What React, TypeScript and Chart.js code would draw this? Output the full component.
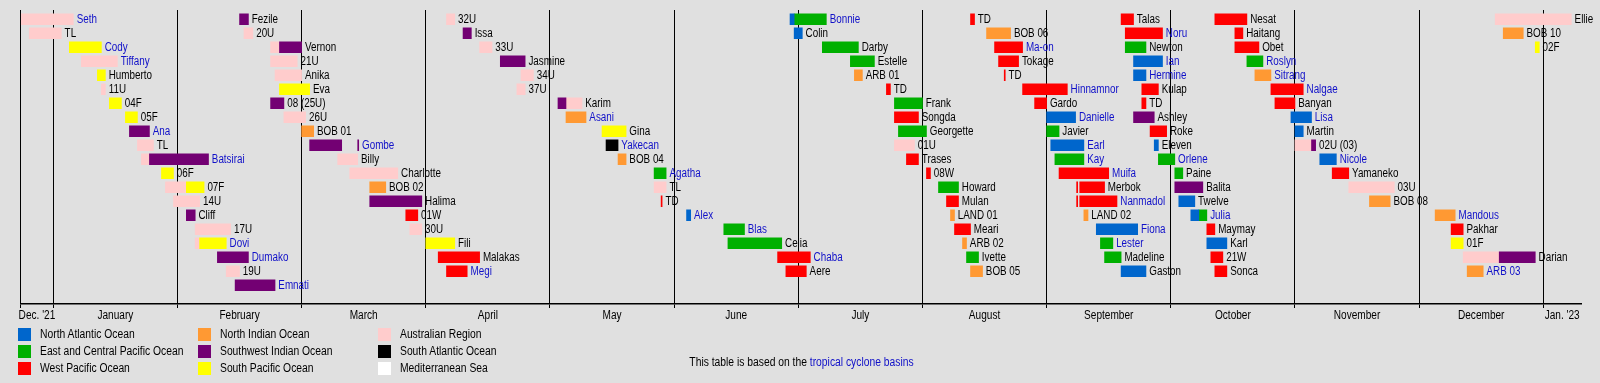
import React, { useEffect, useRef } from 'react';
import { Chart, registerables } from 'chart.js';

Chart.register(...registerables);

// [storm label, row slot, from, to]
type Segment = [string, number, string, string];

const northAtlantic: Segment[] = [
  ['Alex', 14, '2022-06-04', '2022-06-05'],
  ['Bonnie', 0, '2022-06-29', '2022-06-30'],
  ['Colin', 1, '2022-06-30', '2022-07-02'],
  ['Danielle', 7, '2022-09-01', '2022-09-08'],
  ['Earl', 9, '2022-09-02', '2022-09-10'],
  ['Fiona', 15, '2022-09-13', '2022-09-23'],
  ['Gaston', 18, '2022-09-19', '2022-09-25'],
  ['Ian', 3, '2022-09-22', '2022-09-29'],
  ['Hermine', 4, '2022-09-22', '2022-09-25'],
  ['Eleven', 9, '2022-09-27', '2022-09-28'],
  ['Twelve', 13, '2022-10-03', '2022-10-07'],
  ['Julia', 14, '2022-10-06', '2022-10-08'],
  ['Karl', 16, '2022-10-10', '2022-10-15'],
  ['Lisa', 7, '2022-10-31', '2022-11-05'],
  ['Martin', 8, '2022-11-01', '2022-11-03'],
  ['Nicole', 10, '2022-11-07', '2022-11-11'],
];

const eastCentralPacific: Segment[] = [
  ['Agatha', 11, '2022-05-27', '2022-05-30'],
  ['Blas', 15, '2022-06-13', '2022-06-18'],
  ['Celia', 16, '2022-06-14', '2022-06-27'],
  ['Bonnie', 0, '2022-06-30', '2022-07-08'],
  ['Darby', 2, '2022-07-07', '2022-07-16'],
  ['Estelle', 3, '2022-07-14', '2022-07-20'],
  ['Frank', 6, '2022-07-25', '2022-08-01'],
  ['Georgette', 8, '2022-07-26', '2022-08-02'],
  ['Howard', 12, '2022-08-05', '2022-08-10'],
  ['Ivette', 17, '2022-08-12', '2022-08-15'],
  ['Javier', 8, '2022-09-01', '2022-09-04'],
  ['Kay', 10, '2022-09-03', '2022-09-10'],
  ['Lester', 16, '2022-09-14', '2022-09-17'],
  ['Madeline', 17, '2022-09-15', '2022-09-19'],
  ['Newton', 2, '2022-09-20', '2022-09-25'],
  ['Orlene', 10, '2022-09-28', '2022-10-02'],
  ['Paine', 11, '2022-10-02', '2022-10-04'],
  ['Julia', 14, '2022-10-08', '2022-10-10'],
  ['Roslyn', 3, '2022-10-20', '2022-10-24'],
];

const westPacific: Segment[] = [
  ['01W', 14, '2022-03-27', '2022-03-30'],
  ['Malakas', 17, '2022-04-04', '2022-04-14'],
  ['Megi', 18, '2022-04-06', '2022-04-11'],
  ['TD', 13, '2022-05-28T18', '2022-05-29T00'],
  ['Chaba', 17, '2022-06-26', '2022-07-04'],
  ['Aere', 18, '2022-06-28', '2022-07-03'],
  ['TD', 5, '2022-07-23', '2022-07-24'],
  ['Songda', 7, '2022-07-25', '2022-07-31'],
  ['Trases', 10, '2022-07-28', '2022-07-31'],
  ['08W', 11, '2022-08-02', '2022-08-03'],
  ['Mulan', 13, '2022-08-07', '2022-08-10'],
  ['Meari', 15, '2022-08-09', '2022-08-13'],
  ['TD', 0, '2022-08-13', '2022-08-14'],
  ['Ma-on', 2, '2022-08-19', '2022-08-26'],
  ['Tokage', 3, '2022-08-20', '2022-08-25'],
  ['TD', 4, '2022-08-21T10', '2022-08-21T16'],
  ['Hinnamnor', 5, '2022-08-26', '2022-09-06'],
  ['Gardo', 6, '2022-08-29', '2022-09-01'],
  ['Muifa', 11, '2022-09-04', '2022-09-16'],
  ['Merbok', 12, '2022-09-08T06', '2022-09-08T12'],
  ['Merbok', 12, '2022-09-09', '2022-09-15'],
  ['Nanmadol', 13, '2022-09-08T06', '2022-09-08T12'],
  ['Nanmadol', 13, '2022-09-09', '2022-09-18'],
  ['Talas', 0, '2022-09-19', '2022-09-22'],
  ['Noru', 1, '2022-09-20', '2022-09-29'],
  ['Kulap', 5, '2022-09-24', '2022-09-28'],
  ['TD', 6, '2022-09-24', '2022-09-25'],
  ['Roke', 8, '2022-09-26', '2022-09-30'],
  ['Maymay', 15, '2022-10-10', '2022-10-12'],
  ['21W', 17, '2022-10-11', '2022-10-14'],
  ['Sonca', 18, '2022-10-12', '2022-10-15'],
  ['Nesat', 0, '2022-10-12', '2022-10-20'],
  ['Haitang', 1, '2022-10-17', '2022-10-19'],
  ['Obet', 2, '2022-10-17', '2022-10-23'],
  ['Nalgae', 5, '2022-10-26', '2022-11-03'],
  ['Banyan', 6, '2022-10-27', '2022-11-01'],
  ['Yamaneko', 11, '2022-11-10', '2022-11-14'],
  ['Pakhar', 15, '2022-12-09', '2022-12-12'],
];

const northIndian: Segment[] = [
  ['BOB 01', 8, '2022-03-01', '2022-03-04'],
  ['BOB 02', 12, '2022-03-18', '2022-03-22'],
  ['Asani', 7, '2022-05-05', '2022-05-10'],
  ['BOB 04', 10, '2022-05-18', '2022-05-20'],
  ['ARB 01', 4, '2022-07-15', '2022-07-17'],
  ['LAND 01', 14, '2022-08-08', '2022-08-09'],
  ['ARB 02', 16, '2022-08-11', '2022-08-12'],
  ['BOB 05', 18, '2022-08-13', '2022-08-16'],
  ['BOB 06', 1, '2022-08-17', '2022-08-23'],
  ['LAND 02', 14, '2022-09-10', '2022-09-11'],
  ['Sitrang', 4, '2022-10-22', '2022-10-26'],
  ['BOB 08', 13, '2022-11-19', '2022-11-24'],
  ['Mandous', 14, '2022-12-05', '2022-12-10'],
  ['ARB 03', 18, '2022-12-13', '2022-12-17'],
  ['BOB 10', 1, '2022-12-22', '2022-12-27'],
];

const southwestIndian: Segment[] = [
  ['Ana', 8, '2022-01-20', '2022-01-25'],
  ['Batsirai', 10, '2022-01-25', '2022-02-08'],
  ['Cliff', 14, '2022-02-03', '2022-02-05'],
  ['Dumako', 17, '2022-02-10', '2022-02-17'],
  ['Emnati', 19, '2022-02-14', '2022-02-23'],
  ['Fezile', 0, '2022-02-15', '2022-02-17'],
  ['Vernon', 2, '2022-02-24', '2022-03-01'],
  ['08 (25U)', 6, '2022-02-22', '2022-02-25'],
  ['Gombe', 9, '2022-03-03', '2022-03-11'],
  ['Gombe', 9, '2022-03-15', '2022-03-15T06'],
  ['Halima', 13, '2022-03-18', '2022-03-31'],
  ['Issa', 1, '2022-04-10', '2022-04-12'],
  ['Jasmine', 3, '2022-04-19', '2022-04-25'],
  ['Karim', 6, '2022-05-03', '2022-05-05'],
  ['Ashley', 7, '2022-09-22', '2022-09-27'],
  ['Balita', 12, '2022-10-02', '2022-10-09'],
  ['02U (03)', 9, '2022-11-05', '2022-11-06'],
  ['Darian', 17, '2022-12-21', '2022-12-30'],
];

const southPacific: Segment[] = [
  ['Cody', 2, '2022-01-05', '2022-01-13'],
  ['Humberto', 4, '2022-01-12', '2022-01-14'],
  ['04F', 6, '2022-01-15', '2022-01-18'],
  ['05F', 7, '2022-01-19', '2022-01-22'],
  ['06F', 11, '2022-01-28', '2022-01-31'],
  ['07F', 12, '2022-02-03', '2022-02-07'],
  ['Dovi', 16, '2022-02-06', '2022-02-12'],
  ['Eva', 5, '2022-02-24', '2022-03-03'],
  ['Fili', 16, '2022-04-01', '2022-04-08'],
  ['Gina', 8, '2022-05-14', '2022-05-20'],
  ['01F', 16, '2022-12-09', '2022-12-12'],
  ['02F', 2, '2022-12-30', '2022-12-31'],
];

const australianRegion: Segment[] = [
  ['Seth', 0, '2021-12-24', '2022-01-06'],
  ['TL', 1, '2021-12-26', '2022-01-03'],
  ['Tiffany', 3, '2022-01-08', '2022-01-17'],
  ['11U', 5, '2022-01-13', '2022-01-14'],
  ['TL', 9, '2022-01-22', '2022-01-26'],
  ['Batsirai', 10, '2022-01-23', '2022-01-25'],
  ['07F', 12, '2022-01-29', '2022-02-03'],
  ['14U', 13, '2022-01-31', '2022-02-06'],
  ['17U', 15, '2022-02-05', '2022-02-13'],
  ['Dovi', 16, '2022-02-05', '2022-02-06'],
  ['19U', 18, '2022-02-12', '2022-02-15'],
  ['20U', 1, '2022-02-16', '2022-02-18'],
  ['Vernon', 2, '2022-02-22', '2022-02-24'],
  ['21U', 3, '2022-02-22', '2022-02-28'],
  ['Anika', 4, '2022-02-23', '2022-03-01'],
  ['26U', 7, '2022-02-25', '2022-03-02'],
  ['Billy', 10, '2022-03-10', '2022-03-15'],
  ['Charlotte', 11, '2022-03-13', '2022-03-25'],
  ['30U', 15, '2022-03-28', '2022-03-31'],
  ['32U', 0, '2022-04-06', '2022-04-08'],
  ['33U', 2, '2022-04-14', '2022-04-17'],
  ['34U', 4, '2022-04-24', '2022-04-27'],
  ['37U', 5, '2022-04-23', '2022-04-25'],
  ['Karim', 6, '2022-05-05', '2022-05-09'],
  ['TL', 12, '2022-05-27', '2022-05-30'],
  ['01U', 9, '2022-07-25', '2022-07-30'],
  ['02U (03)', 9, '2022-11-01', '2022-11-05'],
  ['03U', 12, '2022-11-14', '2022-11-25'],
  ['Darian', 17, '2022-12-12', '2022-12-21'],
  ['Ellie', 0, '2022-12-20', '2023-01-08'],
];

const southAtlantic: Segment[] = [
  ['Yakecan', 9, '2022-05-15', '2022-05-18'],
];

const mediterranean: Segment[] = [];

const linkedStorms = [
  'Seth', 'Cody', 'Tiffany', 'Ana', 'Batsirai', 'Dovi', 'Dumako', 'Emnati', 'Gombe', 'Megi',
  'Asani', 'Yakecan', 'Agatha', 'Alex', 'Blas', 'Chaba', 'Bonnie', 'Ma-on', 'Hinnamnor',
  'Danielle', 'Earl', 'Kay', 'Muifa', 'Nanmadol', 'Fiona', 'Lester', 'Noru', 'Ian', 'Hermine',
  'Orlene', 'Julia', 'Roslyn', 'Sitrang', 'Nalgae', 'Lisa', 'Nicole', 'Mandous', 'ARB 03',
];

const periodStart = '2021-12-23T20';
const periodEnd = '2023-01-10T10';
const monthStarts = [
  '2022-01-01', '2022-02-01', '2022-03-01', '2022-04-01', '2022-05-01', '2022-06-01', '2022-07-01',
  '2022-08-01', '2022-09-01', '2022-10-01', '2022-11-01', '2022-12-01', '2023-01-01',
];
const monthLabels = [
  "Dec. '21", 'January', 'February', 'March', 'April', 'May', 'June', 'July',
  'August', 'September', 'October', 'November', 'December', "Jan. '23",
];

const basinNames = [
  'North Atlantic Ocean', 'East and Central Pacific Ocean', 'West Pacific Ocean',
  'North Indian Ocean', 'Southwest Indian Ocean', 'South Pacific Ocean',
  'Australian Region', 'South Atlantic Ocean', 'Mediterranean Sea',
];
const basinColors = [
  '#0066cc', '#00b000', '#ff0000',
  '#ff9933', '#730073', '#ffff00',
  '#ffcccc', '#000000', '#ffffff',
];
const basinSegments = [
  northAtlantic, eastCentralPacific, westPacific,
  northIndian, southwestIndian, southPacific,
  australianRegion, southAtlantic, mediterranean,
];

const FONT = "'Liberation Sans', Arial, sans-serif";
const CANVAS_FONT = "12px 'Liberation Sans', Arial, sans-serif";
const NARROW = 0.82;
const LEGEND_NARROW = 0.86;
const LINK = '#1010c8';

function toValue(s: string): number {
  const [datePart, hourPart] = s.split('T');
  const [y, m, d] = datePart.split('-').map(Number);
  const dim = new Date(y, m, 0).getDate();
  const hours = hourPart ? Number(hourPart) : 0;
  return (y - 2022) * 12 + (m - 1) + (d - 1 + hours / 24) / dim;
}

const xMin = toValue(periodStart);
const xMax = toValue(periodEnd);

type TickDef = { value: number; boundary: boolean; label: string };
function buildTickDefs(): TickDef[] {
  const bounds = [xMin, ...monthStarts.map(toValue), xMax];
  const defs: TickDef[] = [];
  for (let i = 0; i < bounds.length; i++) {
    if (i < bounds.length - 1) defs.push({ value: bounds[i], boundary: true, label: '' });
    if (i > 0) defs.push({ value: (bounds[i - 1] + bounds[i]) / 2, boundary: false, label: monthLabels[i - 1] });
  }
  return defs.sort((a, b) => a.value - b.value);
}
const tickDefs = buildTickDefs();

function narrowText(ctx: CanvasRenderingContext2D, text: string, x: number, y: number, k = NARROW) {
  ctx.save();
  ctx.translate(x, y);
  ctx.scale(k, 1);
  ctx.fillText(text, 0, 0);
  ctx.restore();
}

const labelPlugin = {
  id: 'stormLabels',
  afterDatasetsDraw(chart: any) {
    const { ctx, scales } = chart;
    const xs = scales.x;
    const ys = scales.y;
    if (!xs || !ys) return;
    const ends = new Map<string, { name: string; row: number; end: number }>();
    basinSegments.forEach((segs) =>
      segs.forEach(([name, row, , to]) => {
        const key = name + '|' + row;
        const v = toValue(to);
        const cur = ends.get(key);
        if (!cur || v > cur.end) ends.set(key, { name, row, end: v });
      })
    );
    ctx.save();
    ctx.font = CANVAS_FONT;
    ctx.textBaseline = 'middle';
    ctx.textAlign = 'left';
    ends.forEach(({ name, row, end }) => {
      ctx.fillStyle = linkedStorms.includes(name) ? LINK : '#000000';
      narrowText(ctx, name, xs.getPixelForValue(end) + 3.3, ys.getPixelForValue(row) + 0.5);
    });
    ctx.restore();
  },
  afterDraw(chart: any) {
    const { ctx, scales } = chart;
    const xs = scales.x;
    if (!xs) return;
    ctx.save();
    ctx.font = CANVAS_FONT;
    ctx.textBaseline = 'middle';
    ctx.textAlign = 'center';
    ctx.fillStyle = '#000000';
    tickDefs.forEach((t) => {
      if (!t.boundary) narrowText(ctx, t.label, xs.getPixelForValue(t.value), xs.top + 11.5, 0.84);
    });
    ctx.restore();
  },
};

export default function App() {
  const canvasRef = useRef<HTMLCanvasElement | null>(null);

  useEffect(() => {
    const canvas = canvasRef.current;
    if (!canvas) return;
    document.body.style.margin = '0';
    document.body.style.background = '#e0e0e0';

    const chart = new Chart(canvas, {
      type: 'bar',
      data: {
        datasets: basinNames.map((name, i) => ({
          label: name,
          data: basinSegments[i].map(([, row, from, to]) => ({ x: [toValue(from), toValue(to)], y: row })),
          backgroundColor: basinColors[i],
          borderWidth: 0,
          grouped: false,
          barThickness: 11,
          maxBarThickness: 11,
        })) as any,
      },
      options: {
        indexAxis: 'y',
        responsive: false,
        maintainAspectRatio: false,
        animation: false,
        layout: { padding: { left: 20.6, right: 19, top: 10, bottom: 0 } },
        plugins: { legend: { display: false }, tooltip: { enabled: false } },
        scales: {
          x: {
            type: 'linear',
            position: 'bottom',
            min: xMin,
            max: xMax,
            bounds: 'data',
            offset: false,
            afterBuildTicks: (scale: any) => {
              scale.ticks = tickDefs.map((t) => ({ value: t.value }));
            },
            afterFit: (scale: any) => {
              scale.height = 79;
            },
            grid: {
              color: (c: any) => (tickDefs[c.index] && tickDefs[c.index].boundary ? '#000000' : 'rgba(0,0,0,0)'),
              tickColor: (c: any) => (tickDefs[c.index] && tickDefs[c.index].boundary ? '#000000' : 'rgba(0,0,0,0)'),
              lineWidth: 1,
              tickLength: 4,
              drawOnChartArea: true,
            },
            border: { display: true, color: '#000000', width: 1.5 },
            ticks: {
              autoSkip: false,
              maxRotation: 0,
              minRotation: 0,
              callback: () => '',
            },
          },
          y: {
            type: 'linear',
            reverse: true,
            min: -0.664,
            max: 20.34,
            offset: false,
            bounds: 'data',
            display: false,
            grid: { offset: false },
            afterBuildTicks: (scale: any) => {
              const t = [];
              for (let r = 0; r < 20; r++) t.push({ value: r });
              scale.ticks = t;
            },
          },
        },
      } as any,
      plugins: [labelPlugin],
    });
    return () => chart.destroy();
  }, []);

  const legendCols = [
    { swatchX: 18, textX: 40 },
    { swatchX: 198, textX: 220 },
    { swatchX: 378, textX: 400 },
  ];
  const legendRowY = [334, 351, 368];

  const textStyle: React.CSSProperties = {
    position: 'absolute',
    height: 16,
    lineHeight: '16px',
    fontFamily: FONT,
    fontSize: 12,
    color: '#000',
    whiteSpace: 'nowrap',
    transform: `scaleX(${LEGEND_NARROW})`,
  };

  return (
    <div style={{ position: 'absolute', left: 0, top: 0, width: 1600, height: 383, background: '#e0e0e0', overflow: 'hidden' }}>
      <canvas ref={canvasRef} width={1600} height={383} style={{ position: 'absolute', left: 0, top: 0 }} />
      {basinNames.map((name, i) => {
        const col = legendCols[Math.floor(i / 3)];
        const cy = legendRowY[i % 3];
        return (
          <React.Fragment key={name}>
            <div style={{ position: 'absolute', left: col.swatchX, top: cy - 6.5, width: 13, height: 13, background: basinColors[i] }} />
            <div style={{ ...textStyle, left: col.textX, top: cy - 8, transformOrigin: 'left center' }}>{name}</div>
          </React.Fragment>
        );
      })}
      <div style={{ ...textStyle, left: 0, width: 1603, top: 354, textAlign: 'center', transformOrigin: '801.5px 8px' }}>
        This table is based on the <span style={{ color: LINK }}>tropical cyclone basins</span>
      </div>
    </div>
  );
}
